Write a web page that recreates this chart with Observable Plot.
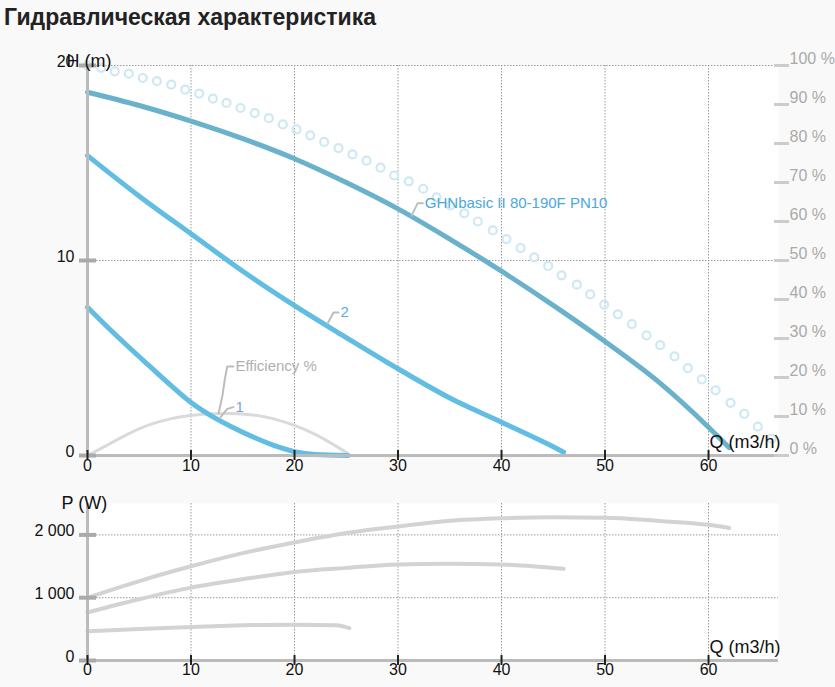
<!DOCTYPE html>
<html><head><meta charset="utf-8">
<script src="https://cdn.jsdelivr.net/npm/d3@7"></script>
<script src="https://cdn.jsdelivr.net/npm/@observablehq/plot@0.6"></script>
<style>
body{margin:0;background:#f9f9f9;font-family:"Liberation Sans",Arial,sans-serif;width:835px;height:687px;overflow:hidden}
#title{height:40px;line-height:34px;font-weight:bold;font-size:23px;color:#222;padding-left:4px;white-space:nowrap}
svg{display:block}
</style></head><body>
<div id="title">Гидравлическая характеристика</div>
<div id="topChart"></div>
<div id="bottomChart"></div>
<script>
// ---- data ----
const qTicks = [0, 10, 20, 30, 40, 50, 60];
const hTicks = [0, 10, 20];
const pctTicks = [0, 10, 20, 30, 40, 50, 60, 70, 80, 90, 100];
const pTicks = [0, 1000, 2000];

const mainQ = [0, 5, 10, 15, 20, 25, 30, 35, 40, 45, 50, 55, 60, 62];
const mainH = [18.63, 17.95, 17.15, 16.25, 15.22, 14.0, 12.65, 11.1, 9.45, 7.7, 5.85, 3.85, 1.45, 0.4];

const c2Q = [0, 5, 10, 15, 20, 25, 30, 35, 40, 45, 46];
const c2H = [15.38, 13.3, 11.37, 9.45, 7.69, 6.05, 4.45, 2.95, 1.71, 0.45, 0.17];

const c1Q = [0, 2, 4, 6, 8, 10, 12, 14, 16, 18, 20, 22, 25.2];
const c1H = [7.6, 6.55, 5.55, 4.58, 3.62, 2.72, 2.02, 1.45, 0.95, 0.52, 0.2, 0.05, 0];

const effQ = [0, 2, 4, 6, 8, 10, 12, 14, 16, 18, 20, 22, 24, 25.1];
const effPct = [0, 2.8, 5.6, 7.9, 9.4, 10.25, 10.7, 10.8, 10.4, 9.4, 7.7, 5.4, 2.4, 0.6];

const dotQ = [0, 1.32, 2.64, 3.99, 5.34, 6.70, 8.09, 9.44, 10.79, 12.11, 13.43, 14.78, 16.16, 17.52, 18.87,
  20.19, 21.52, 22.87, 24.25, 25.60, 26.96, 28.31, 29.63, 31.04, 32.43, 33.72, 35.07, 36.40, 37.71, 39.16,
  40.48, 41.84, 43.16, 44.51, 45.80, 47.28, 48.57, 49.92, 51.24, 52.59, 54.01, 55.33, 56.71, 58.00, 59.35,
  60.68, 62.13, 63.45, 64.76, 66.09];
const dotPct = [100, 99.4, 98.5, 97.9, 96.8, 96.0, 95.1, 93.8, 92.8, 91.5, 90.4, 89.1, 87.8, 86.5, 84.9,
  83.6, 82.1, 80.4, 78.8, 77.2, 75.6, 73.8, 71.8, 70.3, 68.4, 66.2, 64.1, 62.1, 60.0, 57.7,
  55.5, 53.2, 50.8, 48.6, 46.2, 43.8, 41.3, 38.7, 36.2, 33.7, 30.8, 28.3, 25.4, 22.4, 19.5,
  16.7, 13.5, 10.7, 7.4, 4.3];

const pMainQ = [0, 5, 10, 15, 20, 25, 30, 35, 40, 45, 50, 55, 60, 62];
const pMainW = [1000, 1265, 1500, 1710, 1880, 2030, 2135, 2225, 2265, 2280, 2275, 2225, 2160, 2110];
const p2Q = [0, 5, 10, 15, 20, 25, 30, 35, 40, 43, 46];
const p2W = [765, 975, 1160, 1295, 1410, 1475, 1530, 1540, 1530, 1500, 1460];
const p1Q = [0, 5, 10, 15, 20, 24, 25.3];
const p1W = [465, 500, 535, 560, 570, 560, 515];

const labelTexts = ["GHNbasic II 80-190F PN10", "2", "1", "Efficiency %"];
const labelColors = ["#4ba7dc", "#5aaee0", "#7f9fd6", "#b0b0b0"];
const labelPaths = [
  [[31.3, 12.3], [31.9, 12.94], [32.4, 12.94]],
  [[23.2, 6.77], [23.77, 7.33], [24.25, 7.33]],
  [[12.85, 1.96], [13.5, 2.39], [14.1, 2.48]],
  [[12.66, 2.15], [13.04, 3.08], [13.28, 3.95], [13.5, 4.56], [14.1, 4.56]]
];

// ---- tables ----
const zip = (xs, ys, k) => xs.map((x, i) => ({q: x, [k]: ys[i]}));
const mainData = zip(mainQ, mainH, "h");
const c2Data = zip(c2Q, c2H, "h");
const c1Data = zip(c1Q, c1H, "h");
const effData = zip(effQ, effPct, "pct");
const dotData = zip(dotQ, dotPct, "pct");
const leaders = labelPaths.flatMap((p, i) => p.map(([q, h]) => ({id: i, q, h})));

const X_DOMAIN = [0, 66.76];
const FONT = "'Liberation Sans', Arial, sans-serif";
const gridStyle = {stroke: "#9a9a9a", strokeOpacity: 1, strokeDasharray: "1.5,1.5", strokeWidth: 1};
const common = {
  width: 835, marginLeft: 87, marginRight: 57,
  style: {background: "transparent", fontFamily: FONT, fontSize: "16px", color: "#111", overflow: "visible"}
};

const topPlot = Plot.plot({
  ...common,
  height: 440, marginTop: 25, marginBottom: 25,
  x: {domain: X_DOMAIN, axis: null},
  y: {domain: [0, 20], axis: null},
  marks: [
    Plot.frame({fill: "white", stroke: "none"}),
    Plot.gridX(qTicks.slice(1), gridStyle),
    Plot.gridY(hTicks.slice(1), gridStyle),
    Plot.dot(dotData, {x: "q", y: d => d.pct / 5, r: 4, stroke: "#cfe8f4", strokeWidth: 2.2, fill: "none"}),
    Plot.line(effData, {x: "q", y: d => d.pct / 5, stroke: "#dadada", strokeWidth: 3, curve: "monotone-x"}),
    Plot.line(c1Data, {x: "q", y: "h", stroke: "#62bde2", strokeWidth: 5, curve: "monotone-x"}),
    Plot.line(c2Data, {x: "q", y: "h", stroke: "#62bde2", strokeWidth: 5, curve: "monotone-x"}),
    Plot.line(mainData, {x: "q", y: "h", stroke: "#6ab2cb", strokeWidth: 5, curve: "monotone-x"}),
    Plot.line(leaders, {x: "q", y: "h", z: "id", stroke: "#bdbdbd", strokeWidth: 2}),
    ...labelTexts.map((t, i) => Plot.text([t], {
      x: () => labelPaths[i].at(-1)[0], y: () => labelPaths[i].at(-1)[1], text: d => d,
      textAnchor: "start", dx: 2, fill: labelColors[i], fontSize: 15, fontFamily: FONT
    })),
    Plot.ruleX([0], {stroke: "#bbb", strokeWidth: 3}),
    Plot.ruleY([0], {stroke: "#bbb", strokeWidth: 3}),
    Plot.axisY(hTicks, {anchor: "left", tickSize: 17, dx: 9, stroke: "#aaa", strokeWidth: 4, tickFormat: () => "", label: null}),
    Plot.axisY(hTicks, {anchor: "left", tickSize: 0, tickPadding: 13, dy: -4, fontSize: 16, fill: "#111", label: null}),
    Plot.axisY(pctTicks.map(p => p / 5), {anchor: "right", tickSize: 15, dx: -5, stroke: "#ccc", strokeWidth: 3, tickFormat: () => "", label: null}),
    Plot.axisY(pctTicks.map(p => p / 5), {anchor: "right", tickSize: 0, tickPadding: 11, dy: -7, fontSize: 16, fill: "#aaa",
      tickFormat: d => Math.round(d * 5) + " %", label: null}),
    Plot.axisX(qTicks, {anchor: "bottom", tickSize: 10, dy: -5, stroke: "#222", strokeWidth: 2, tickFormat: () => "", label: null}),
    Plot.axisX(qTicks, {anchor: "bottom", tickSize: 0, tickPadding: 4, fontSize: 16, fill: "#111", label: null}),
    Plot.text(["H (m)"], {frameAnchor: "top-left", text: d => d, dx: -21, dy: -11, textAnchor: "start", fontSize: 18, fill: "#111"}),
    Plot.text(["Q (m3/h)"], {frameAnchor: "bottom-right", text: d => d, dx: 2, dy: -8, textAnchor: "end", fontSize: 18, fill: "#111"})
  ]
});
document.getElementById("topChart").append(topPlot);

const pFmt = d => d3.format(",")(d).replace(",", " ");
const bottomPlot = Plot.plot({
  ...common,
  height: 207, marginTop: 23, marginBottom: 27,
  x: {domain: X_DOMAIN, axis: null},
  y: {domain: [0, 2500], axis: null},
  marks: [
    Plot.frame({fill: "white", stroke: "none"}),
    Plot.gridX(qTicks.slice(1), gridStyle),
    Plot.gridY(pTicks.slice(1), gridStyle),
    Plot.line(zip(p1Q, p1W, "w"), {x: "q", y: "w", stroke: "#d3d3d3", strokeWidth: 4, curve: "monotone-x"}),
    Plot.line(zip(p2Q, p2W, "w"), {x: "q", y: "w", stroke: "#d3d3d3", strokeWidth: 4, curve: "monotone-x"}),
    Plot.line(zip(pMainQ, pMainW, "w"), {x: "q", y: "w", stroke: "#d3d3d3", strokeWidth: 4, curve: "monotone-x"}),
    Plot.ruleX([0], {stroke: "#bbb", strokeWidth: 3}),
    Plot.ruleY([0], {stroke: "#bbb", strokeWidth: 3}),
    Plot.axisY(pTicks, {anchor: "left", tickSize: 17, dx: 9, stroke: "#aaa", strokeWidth: 4, tickFormat: () => "", label: null}),
    Plot.axisY(pTicks, {anchor: "left", tickSize: 0, tickPadding: 13, dy: -4, fontSize: 16, fill: "#111", tickFormat: pFmt, label: null}),
    Plot.axisX(qTicks, {anchor: "bottom", tickSize: 10, dy: -5, stroke: "#222", strokeWidth: 2, tickFormat: () => "", label: null}),
    Plot.axisX(qTicks, {anchor: "bottom", tickSize: 0, tickPadding: 3, fontSize: 16, fill: "#111", label: null}),
    Plot.text(["P (W)"], {frameAnchor: "top-left", text: d => d, dx: -26, dy: -7, textAnchor: "start", fontSize: 18, fill: "#111"}),
    Plot.text(["Q (m3/h)"], {frameAnchor: "bottom-right", text: d => d, dx: 2, dy: -8, textAnchor: "end", fontSize: 18, fill: "#111"})
  ]
});
document.getElementById("bottomChart").append(bottomPlot);
</script>
</body></html>
